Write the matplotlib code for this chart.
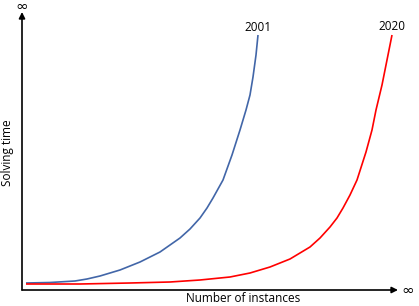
import numpy as np
import matplotlib
matplotlib.use('Agg')
from matplotlib import pyplot as plt

# curve values (x: instances, y: solving time, arbitrary units)
x_2001 = [4, 28, 53, 65, 78, 98, 118, 138, 158, 168, 178, 185, 191, 201, 210, 218, 224, 228, 231, 234, 236]
y_2001 = [7, 7.5, 9, 11, 14, 20, 28, 38, 52, 61, 72, 82, 92, 110, 135, 160, 180, 195, 213, 235, 255]

x_2020 = [4, 58, 108, 148, 178, 208, 228, 248, 268, 288, 298, 308, 315, 321, 328, 335, 344, 350, 354, 360, 365, 370]
y_2020 = [6, 6, 7, 8, 10, 13, 17, 23, 31, 43, 52, 63, 72, 82, 95, 110, 138, 160, 180, 205, 230, 255]

labels = ['2001', '2020']
x_label = 'Number of instances'
y_label = 'Solving time'

plt.rcParams['font.family'] = ['Open Sans', 'DejaVu Sans']

fig = plt.figure(figsize=(4.19, 3.06), dpi=100)
ax = fig.add_axes([22 / 419, 16 / 306, 376 / 419, 278 / 306])
ax.set_xlim(0, 376)
ax.set_ylim(0, 278)
ax.axis('off')

ax.plot(x_2001, y_2001, color='#4266A8', lw=1.2, solid_capstyle='butt', solid_joinstyle='round')
ax.plot(x_2020, y_2020, color='#FF0000', lw=1.2, solid_capstyle='butt', solid_joinstyle='round')

ax.text(x_2001[-1], y_2001[-1] + 4, labels[0], ha='center', va='baseline', fontsize=8.5)
ax.text(x_2020[-1], y_2020[-1] + 5, labels[1], ha='center', va='baseline', fontsize=8.5)

# axes with arrow heads
arrow = dict(arrowstyle='-|>', color='black', lw=1.2, mutation_scale=9, shrinkA=0, shrinkB=0)
ax.annotate('', xy=(1.0, 0), xytext=(0, 0), xycoords='axes fraction', arrowprops=arrow, annotation_clip=False)
ax.annotate('', xy=(0, 1.0), xytext=(0, 0), xycoords='axes fraction', arrowprops=arrow, annotation_clip=False)

fig.text(22 / 419, 1 - 6 / 306, '∞', ha='center', va='center', fontsize=11, family='DejaVu Sans')
fig.text(408 / 419, 1 - 290 / 306, '∞', ha='center', va='center', fontsize=11, family='DejaVu Sans')

fig.text(243 / 419, 1 - 298 / 306, x_label, ha='center', va='center', fontsize=8.5)
fig.text(8 / 419, 1 - 153 / 306, y_label, ha='center', va='center', fontsize=8.5, rotation=90)

fig.savefig('out.png', dpi=100)
